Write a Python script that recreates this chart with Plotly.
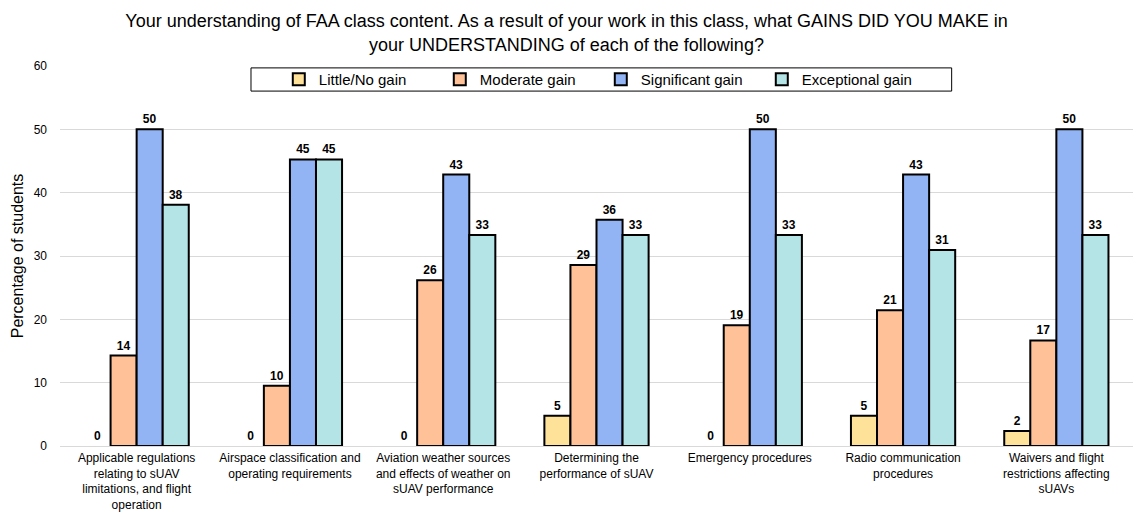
import plotly.graph_objects as go

categories = [
    "Applicable regulations<br>relating to sUAV<br>limitations, and flight<br>operation",
    "Airspace classification and<br>operating requirements",
    "Aviation weather sources<br>and effects of weather on<br>sUAV performance",
    "Determining the<br>performance of sUAV",
    "Emergency procedures",
    "Radio communication<br>procedures",
    "Waivers and flight<br>restrictions affecting<br>sUAVs",
]

little_no_gain = [0, 0, 0, 4.76, 0, 4.76, 2.38]
moderate_gain = [14.29, 9.52, 26.19, 28.57, 19.05, 21.43, 16.67]
significant_gain = [50, 45.24, 42.86, 35.71, 50, 42.86, 50]
exceptional_gain = [38.1, 45.24, 33.33, 33.33, 33.33, 30.95, 33.33]

series = [
    ("Little/No gain", little_no_gain, "#FEE29A"),
    ("Moderate gain", moderate_gain, "#FFC197"),
    ("Significant gain", significant_gain, "#92B4F4"),
    ("Exceptional gain", exceptional_gain, "#B4E4E6"),
]

FONT = "Arial, Liberation Sans, sans-serif"

fig = go.Figure()
for name, vals, color in series:
    # no outline on empty (zero-height) bars
    outline = [2 if v > 0 else 0 for v in vals]
    fig.add_trace(go.Bar(
        name=name,
        x=categories,
        y=vals,
        offsetgroup=name,
        legendgroup=name,
        showlegend=False,
        marker=dict(color=color, line=dict(color="#000000", width=outline)),
        texttemplate="%{y:.0f}",
        textposition="outside",
        textfont=dict(family=FONT, size=12, color="#000000", weight="bold"),
        cliponaxis=False,
    ))
    # legend entry with the outlined swatch
    fig.add_trace(go.Bar(
        name=name,
        x=[None],
        y=[None],
        offsetgroup=name,
        legendgroup=name,
        showlegend=True,
        marker=dict(color=color, line=dict(color="#000000", width=2)),
    ))

# frame drawn around the legend entries
fig.add_shape(
    type="rect", xref="paper", yref="paper",
    x0=0.178, x1=0.831, y0=0.934, y1=0.995,
    line=dict(color="#000000", width=1),
    fillcolor="white", layer="above",
)

fig.update_layout(
    width=1133,
    height=512,
    barmode="group",
    bargap=0.32,
    bargroupgap=0,
    plot_bgcolor="white",
    paper_bgcolor="white",
    font=dict(family=FONT, color="#000000"),
    margin=dict(l=60, r=0, t=66, b=66),
    title=dict(
        text="Your understanding of FAA class content. As a result of your work in this class, what GAINS DID YOU MAKE in<br>your UNDERSTANDING of each of the following?",
        x=0.5,
        xanchor="center",
        y=0.947,
        yanchor="middle",
        font=dict(family=FONT, size=18, color="#000000"),
    ),
    legend=dict(
        orientation="h",
        x=0.504,
        xanchor="center",
        y=0.9645,
        yanchor="middle",
        borderwidth=0,
        bgcolor="rgba(0,0,0,0)",
        font=dict(family=FONT, size=15, color="#000000"),
        entrywidth=116,
        entrywidthmode="pixels",
        itemwidth=30,
    ),
    yaxis=dict(
        range=[0, 60],
        dtick=10,
        showgrid=True,
        gridcolor="#D9D9D9",
        gridwidth=1,
        zeroline=True,
        zerolinecolor="#D9D9D9",
        zerolinewidth=1,
        showline=False,
        ticks="",
        ticklabelstandoff=12,
        tickfont=dict(family=FONT, size=12, color="#000000"),
        title=dict(text="Percentage of students", font=dict(family=FONT, size=16, color="#000000"), standoff=6),
    ),
    xaxis=dict(
        showline=False,
        ticks="",
        tickangle=0,
        automargin=False,
        ticklabelstandoff=3,
        tickfont=dict(family=FONT, size=12, color="#000000"),
    ),
)

fig.write_html("out.html")
